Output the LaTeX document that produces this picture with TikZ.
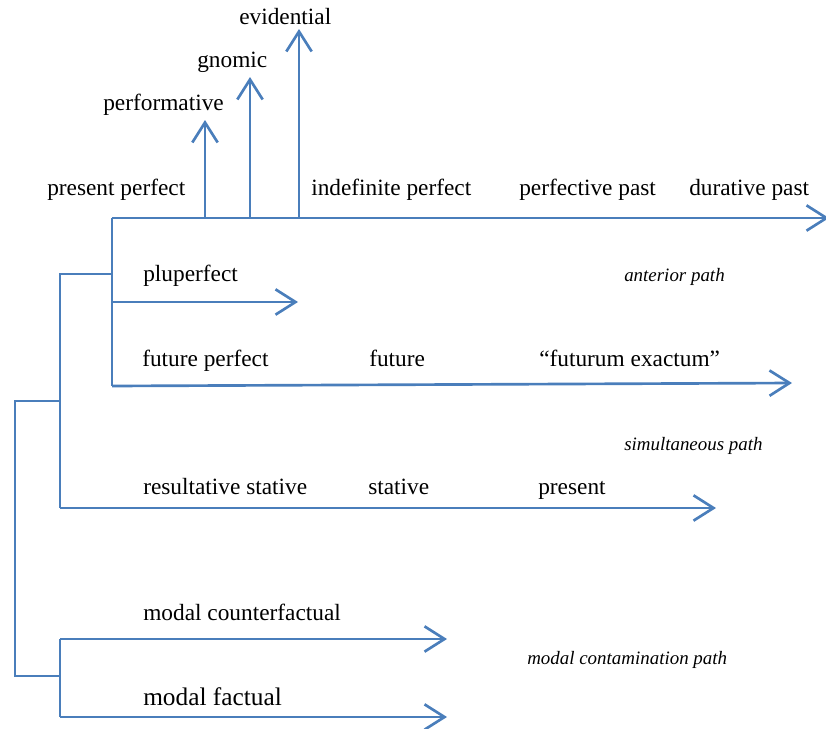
\documentclass[tikz,border=0pt]{standalone}
\usepackage{fontspec}
\setmainfont{Liberation Serif}
\usetikzlibrary{arrows.meta}
\definecolor{lineblue}{HTML}{4A7EBB}
\begin{document}
\begin{tikzpicture}[x=0.75pt,y=-0.75pt,
  ln/.style={draw=lineblue,line width=2pt},
  arr/.style={ln,-{Straight Barb[length=15pt,width=19pt]}},
  lbl/.style={anchor=base west,inner sep=0pt,font=\fontsize{17.5}{20}\selectfont},
  biglbl/.style={anchor=base west,inner sep=0pt,font=\fontsize{19}{22}\selectfont},
  pathlbl/.style={anchor=base west,inner sep=0pt,font=\fontsize{14.2}{16}\selectfont\itshape}]
\useasboundingbox (0,0) rectangle (826,729);

% junction coordinates
\coordinate (top0) at (112,218);
\coordinate (topEnd) at (829,218);
\coordinate (v1b) at (205,218);
\coordinate (v1t) at (205,120);
\coordinate (v2b) at (250,218);
\coordinate (v2t) at (250,77);
\coordinate (v3b) at (299,218);
\coordinate (v3t) at (299,29);
\coordinate (plu0) at (112,302);
\coordinate (pluEnd) at (298,302);
\coordinate (fut0) at (112,386);
\coordinate (futEnd) at (792,383);
\coordinate (br1) at (112,274);
\coordinate (br1L) at (60,274);
\coordinate (res0) at (60,508);
\coordinate (resEnd) at (716,508);
\coordinate (br2) at (60,401);
\coordinate (br2L) at (15,401);
\coordinate (br3L) at (15,676);
\coordinate (br3) at (60,676);
\coordinate (mod1) at (60,639);
\coordinate (mod1End) at (447,639);
\coordinate (mod2) at (60,717);
\coordinate (mod2End) at (447,717);

% connectors
\draw[arr] (top0) -- (topEnd);
\draw[arr] (v1b) -- (v1t);
\draw[arr] (v2b) -- (v2t);
\draw[arr] (v3b) -- (v3t);
\draw[ln] (top0) -- (fut0);
\draw[arr] (plu0) -- (pluEnd);
\draw[arr] (fut0) -- (futEnd);
\draw[ln] (br1) -- (br1L) -- (res0);
\draw[arr] (res0) -- (resEnd);
\draw[ln] (br2) -- (br2L) -- (br3L) -- (br3);
\draw[ln] (mod1) -- (mod2);
\draw[arr] (mod1) -- (mod1End);
\draw[arr] (mod2) -- (mod2End);

% labels
\node[lbl] (evid) at (239,24) {evidential};
\node[lbl] (gnom) at (197,67) {gnomic};
\node[lbl] (perf) at (103,110) {performative};
\node[lbl] (prp) at (47,195) {present perfect};
\node[lbl] (indp) at (311,195) {indefinite perfect};
\node[lbl] (pfp) at (519,195) {perfective past};
\node[lbl] (durp) at (689,195) {durative past};
\node[lbl] (plup) at (143,281) {pluperfect};
\node[pathlbl] (ant) at (624,281) {anterior path};
\node[lbl] (futp) at (142,366) {future perfect};
\node[lbl] (fut) at (369,366) {future};
\node[lbl] (futex) at (539,366) {“futurum exactum”};
\node[pathlbl] (sim) at (624,450) {simultaneous path};
\node[lbl] (ress) at (143,494) {resultative stative};
\node[lbl] (stat) at (368,494) {stative};
\node[lbl] (pres) at (538,494) {present};
\node[lbl] (modc) at (143,620) {modal counterfactual};
\node[pathlbl] (modcp) at (527,664) {modal contamination path};
\node[biglbl] (modf) at (143,705) {modal factual};
\end{tikzpicture}
\end{document}
